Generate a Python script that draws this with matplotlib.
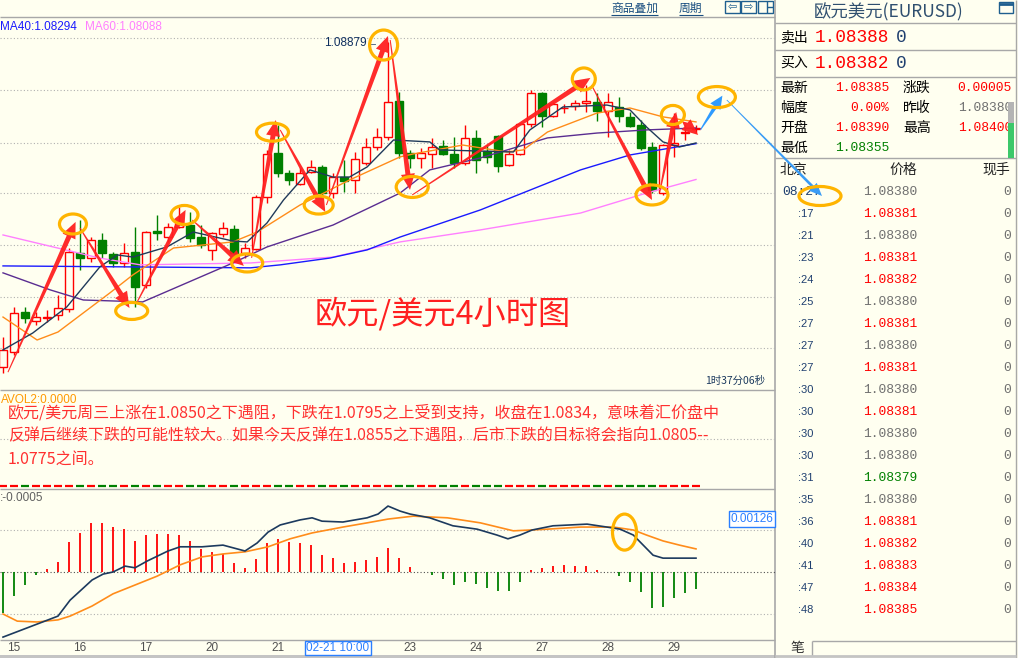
import matplotlib
matplotlib.use("Agg")
import matplotlib.pyplot as plt
from matplotlib.patches import Rectangle, Ellipse, Polygon
from matplotlib.transforms import blended_transform_factory
import numpy as np

# ---------------------------------------------------------------- data
opens = [1.07010, 1.07096, 1.07326, 1.07274, 1.07292, 1.07309, 1.07343, 1.07665, 1.07636, 1.07740,
         1.07660, 1.07608, 1.07671, 1.07481, 1.07792, 1.07757, 1.07815, 1.07826, 1.07757, 1.07683,
         1.07775, 1.07803, 1.07665, 1.07688, 1.07987, 1.08240, 1.08125, 1.08062, 1.08131, 1.08160,
         1.08010, 1.08102, 1.08085, 1.08183, 1.08275, 1.08333, 1.08539, 1.08240, 1.08212, 1.08235,
         1.08281, 1.08235, 1.08183, 1.08327, 1.08252, 1.08338, 1.08171, 1.08235, 1.08407, 1.08585,
         1.08453, 1.08499, 1.08511, 1.08528, 1.08534, 1.08482, 1.08505, 1.08448, 1.08401, 1.08275,
         1.08010, 1.08286, 1.08356, 1.08380]
highs = [1.07182, 1.07355, 1.07355, 1.07326, 1.07338, 1.07424, 1.07694, 1.07855, 1.07757, 1.07780,
         1.07671, 1.07723, 1.07815, 1.07792, 1.07884, 1.07838, 1.07930, 1.07901, 1.07826, 1.07786,
         1.07844, 1.07826, 1.07723, 1.07999, 1.08258, 1.08401, 1.08143, 1.08154, 1.08200, 1.08171,
         1.08125, 1.08200, 1.08246, 1.08327, 1.08384, 1.08879, 1.08591, 1.08258, 1.08269, 1.08327,
         1.08315, 1.08333, 1.08401, 1.08373, 1.08286, 1.08345, 1.08258, 1.08413, 1.08603, 1.08591,
         1.08534, 1.08522, 1.08545, 1.08631, 1.08585, 1.08585, 1.08562, 1.08476, 1.08430, 1.08304,
         1.08292, 1.08471, 1.08401, 1.08400]
lows = [1.06975, 1.07079, 1.07263, 1.07252, 1.07269, 1.07281, 1.07326, 1.07568, 1.07613, 1.07636,
        1.07585, 1.07585, 1.07355, 1.07464, 1.07740, 1.07729, 1.07809, 1.07729, 1.07694, 1.07625,
        1.07757, 1.07660, 1.07636, 1.07683, 1.07953, 1.08102, 1.08056, 1.08056, 1.08125, 1.07999,
        1.07982, 1.08016, 1.08010, 1.08171, 1.08258, 1.08315, 1.08212, 1.08154, 1.08154, 1.08154,
        1.08229, 1.08154, 1.08171, 1.08125, 1.08183, 1.08131, 1.08166, 1.08229, 1.08390, 1.08390,
        1.08448, 1.08471, 1.08488, 1.08476, 1.08425, 1.08333, 1.08419, 1.08390, 1.08258, 1.08010,
        1.07999, 1.08218, 1.08315, 1.08355]
closes = [1.07107, 1.07320, 1.07292, 1.07298, 1.07298, 1.07349, 1.07671, 1.07636, 1.07740, 1.07665,
          1.07608, 1.07665, 1.07470, 1.07786, 1.07780, 1.07815, 1.07838, 1.07751, 1.07711, 1.07780,
          1.07809, 1.07665, 1.07694, 1.07987, 1.08234, 1.08125, 1.08085, 1.08125, 1.08160, 1.08010,
          1.08102, 1.08079, 1.08206, 1.08275, 1.08333, 1.08534, 1.08240, 1.08212, 1.08240, 1.08275,
          1.08235, 1.08183, 1.08327, 1.08200, 1.08218, 1.08166, 1.08235, 1.08407, 1.08585, 1.08453,
          1.08522, 1.08500, 1.08528, 1.08539, 1.08482, 1.08534, 1.08453, 1.08396, 1.08269, 1.08028,
          1.08286, 1.08298, 1.08361, 1.08385]
volume = [0, 0, 0, 0, 0, 0, 0, 0, 0, 0, 0, 0, 0, 0, 0, 0, 0, 0, 0, 0, 0, 0, 0, 0, 0, 0, 0, 0, 0, 0, 0, 0,
          0, 0, 0, 0, 0, 0, 0, 0, 0, 0, 0, 0, 0, 0, 0, 0, 0, 0, 0, 0, 0, 0, 0, 0, 0, 0, 0, 0, 0, 0, 0, 0]

# moving averages (candle index, value)
ma5_x = [0, 2.7, 5.8, 8.8, 10.4, 11.8, 14.9, 17.3, 20.9, 22.2, 24.0, 25.5, 27.9, 30.0, 31.5, 33.1, 35.5,
         38.8, 39.7, 46.4, 47.9, 50.9, 54.9, 57.0, 58.5, 60.0, 61.5, 63.0]
ma5_v = [1.07108, 1.07205, 1.07355, 1.07585, 1.07654, 1.07642, 1.07700, 1.07786, 1.07734, 1.07729,
         1.07838, 1.07970, 1.08143, 1.08102, 1.08102, 1.08160, 1.08315, 1.08304, 1.08258, 1.08246,
         1.08373, 1.08505, 1.08516, 1.08488, 1.08390, 1.08304, 1.08275, 1.08298]
ma10_x = [0, 3.1, 5.0, 9.7, 11.8, 15.5, 20.9, 23.1, 27.0, 31.5, 36.1, 37.3, 41.8, 45.8, 47.3, 49.5,
          54.0, 57.0, 60.0, 63.0]
ma10_v = [1.07297, 1.07165, 1.07211, 1.07435, 1.07539, 1.07694, 1.07729, 1.07786, 1.07941, 1.08085,
          1.08218, 1.08235, 1.08286, 1.08246, 1.08258, 1.08361, 1.08470, 1.08499, 1.08448, 1.08419]
ma20_x = [0, 4.3, 7.3, 12.7, 20.9, 24.0, 30.0, 36.1, 38.8, 43.4, 49.5, 54.0, 58.5, 63.0]
ma20_v = [1.07551, 1.07453, 1.07395, 1.07384, 1.07608, 1.07700, 1.07826, 1.08010, 1.08143, 1.08212,
          1.08327, 1.08355, 1.08373, 1.08384]
ma40_x = [0, 22.5, 25.2, 29.7, 33.1, 36.1, 43.4, 52.5, 57.0, 63.0]
ma40_v = [1.07591, 1.07580, 1.07597, 1.07636, 1.07683, 1.07757, 1.07913, 1.08143, 1.08229, 1.08294]
ma60_x = [0, 8.8, 12.5, 22.5, 30.0, 36.1, 43.4, 52.5, 58.5, 63.0]
ma60_v = [1.07769, 1.07636, 1.07597, 1.07608, 1.07642, 1.07729, 1.07798, 1.07895, 1.08010, 1.08088]

# MACD
macd_hist = [-0.00098, -0.00057, -0.00031, -0.00007, 0.00007, 0.00024, 0.00071, 0.00093, 0.00117, 0.00117,
             0.00107, 0.00102, 0.00074, 0.00088, 0.00090, 0.00090, 0.00088, 0.00074, 0.00055, 0.00048,
             0.00043, 0.00021, 0.00010, 0.00031, 0.00069, 0.00079, 0.00071, 0.00069, 0.00064, 0.00040,
             0.00033, 0.00021, 0.00024, 0.00029, 0.00036, 0.00057, 0.00033, 0.00012, 0.00000, -0.00007,
             -0.00017, -0.00031, -0.00024, -0.00029, -0.00038, -0.00045, -0.00045, -0.00024, 0.00005, 0.00010,
             0.00014, 0.00017, 0.00014, 0.00014, 0.00005, -0.00001, -0.00010, -0.00024, -0.00048, -0.00086,
             -0.00083, -0.00062, -0.00050, -0.00040]
dif_x = [0, 5, 6.1, 8.1, 9.1, 10, 11.1, 12, 13.1, 15, 16.1, 18.1, 20, 22, 23.1, 24.1, 25.2, 27, 28.1, 29,
         30.9, 33.1, 34.1, 35, 36.1, 37, 38.8, 40.9, 43.1, 44.9, 45.9, 47, 48.1, 50, 53.1, 54.9, 56.1, 57.3,
         58.2, 59.1, 60, 63]
dif_v = [-0.00155, -0.00105, -0.00067, -0.00019, -0.00005, 0.0, 0.00014, 0.00010, 0.00026, 0.00050,
         0.00060, 0.00060, 0.00064, 0.00050, 0.00069, 0.00095, 0.00112, 0.00124, 0.00129, 0.00121,
         0.00119, 0.00129, 0.00138, 0.00157, 0.00145, 0.00138, 0.00129, 0.00110, 0.00102, 0.00088,
         0.00079, 0.00088, 0.00100, 0.00110, 0.00114, 0.00107, 0.00102, 0.00088, 0.00064, 0.00040,
         0.00033, 0.00033]
dea_x = [0, 1.3, 3.1, 5, 6.1, 8.1, 10, 12, 14, 16.1, 18.1, 20, 22, 24.1, 26.1, 28.1, 30.9, 33.1, 35, 37.3,
         40.4, 43.4, 46.4, 49.5, 52.5, 55.5, 57.3, 58.5, 60, 61.5, 63]
dea_v = [-0.00100, -0.00117, -0.00119, -0.00114, -0.00105, -0.00081, -0.00052, -0.00031, -0.00010, 0.00017,
         0.00036, 0.00043, 0.00048, 0.00060, 0.00079, 0.00093, 0.00107, 0.00117, 0.00126, 0.00133,
         0.00129, 0.00117, 0.00098, 0.00102, 0.00107, 0.00107, 0.00100, 0.00088, 0.00074, 0.00064, 0.00055]
macd_marker = 0.00126
macd_top_label = ":-0.0005"

# x axis labels
day_labels = ["15", "16", "17", "20", "21", "23", "24", "27", "28", "29"]
day_label_idx = [1, 7, 13, 19, 25, 37, 43, 49, 55, 61]
cursor_label = "02-21 10:00"
price_grid = [1.0712, 1.0741, 1.0771, 1.0801, 1.0830, 1.0860, 1.0890]

# quote panel
symbol_title = "欧元美元(EURUSD)"
ask_price, bid_price = 1.08388, 1.08382
last_price, prev_close = 1.08385, 1.08380
day_open, day_high, day_low = 1.08390, 1.08400, 1.08355
tick_times = ["08:27", ":17", ":21", ":23", ":24", ":25", ":27", ":27", ":27", ":30",
              ":30", ":30", ":30", ":31", ":35", ":36", ":40", ":41", ":47", ":48"]
tick_prices = [1.08380, 1.08381, 1.08380, 1.08381, 1.08382, 1.08380, 1.08381, 1.08380, 1.08381, 1.08380,
               1.08381, 1.08380, 1.08380, 1.08379, 1.08380, 1.08381, 1.08382, 1.08383, 1.08384, 1.08385]
tick_vols = [0, 0, 0, 0, 0, 0, 0, 0, 0, 0, 0, 0, 0, 0, 0, 0, 0, 0, 0, 0]

chart_title = "欧元/美元4小时图"
comment_lines = ["欧元/美元周三上涨在1.0850之下遇阻，下跌在1.0795之上受到支持，收盘在1.0834，意味着汇价盘中",
                 "反弹后继续下跌的可能性较大。如果今天反弹在1.0855之下遇阻，后市下跌的目标将会指向1.0805--",
                 "1.0775之间。"]

# annotation anchors (candle index, price)
circles = [(6.36, 1.07832, 27, 20), (11.7, 1.07332, 32, 17), (16.5, 1.07884, 27, 19),
           (22.2, 1.07608, 31, 18), (24.5, 1.08360, 32, 18), (28.7, 1.07941, 29, 18),
           (34.6, 1.08861, 28, 30), (37.2, 1.08045, 32, 21), (52.8, 1.08666, 23, 22),
           (59.0, 1.07999, 32, 20), (60.9, 1.08459, 23, 19), (64.9, 1.08562, 37, 21)]
red_arrows = [((0.45, 1.06980), (6.6, 1.07844)), ((7.0, 1.07809), (11.5, 1.07349)),
              ((12.1, 1.07372), (16.6, 1.07913)), ((17.2, 1.07855), (21.9, 1.07591)),
              ((22.6, 1.07637), (24.8, 1.08430)), ((25.2, 1.08373), (29.3, 1.07901)),
              ((29.4, 1.07941), (35.0, 1.08913)), ((35.2, 1.08890), (37.0, 1.08028)),
              ((37.2, 1.07999), (53.4, 1.08672)), ((53.5, 1.08631), (59.0, 1.07970)),
              ((59.7, 1.08016), (61.2, 1.08476)), ((61.8, 1.08419), (63.2, 1.08344))]
blue_arrow = ((63.4, 1.08373), (65.4, 1.08570))
blue_line_start = (65.8, 1.08545)

# ---------------------------------------------------------------- style
W, H = 1018, 658
BG = "#FFFFF0"
RED = "#FF0000"
GREEN = "#008000"
GRAY = "#707070"
NAVY = "#1C3A5E"
LINE = "#A8A8A8"
CJK = ["Noto Sans CJK SC", "DejaVu Sans"]
SANS = ["Liberation Sans", "DejaVu Sans"]
MONO = ["Liberation Mono", "DejaVu Sans Mono"]
plt.rcParams["font.family"] = CJK

fig = plt.figure(figsize=(W / 100, H / 100), dpi=100, facecolor=BG)

bg = fig.add_axes([0, 0, 1, 1], zorder=0)
bg.set_xlim(0, W)
bg.set_ylim(H, 0)
bg.axis("off")

CW = 775  # chart width in px
XMIN = -3 / 11
XMAX = XMIN + CW / 11


def panel(top, bottom, ylim, z=2):
    a = fig.add_axes([0, (H - bottom) / H, CW / W, (bottom - top) / H], zorder=z)
    a.set_xlim(XMIN, XMAX)
    a.set_ylim(*ylim)
    a.axis("off")
    return a


ax_p = panel(17, 390, (1.068775, 1.0902225))
ax_v = panel(390, 489, (-3, 96))
ax_m = panel(489, 640, (-(640 - 572) / 42000, (572 - 489) / 42000))

ov = fig.add_axes([0, 0, 1, 1], zorder=10)
ov.set_xlim(0, W)
ov.set_ylim(H, 0)
ov.axis("off")


def to_px(ax, x, y):
    d = ax.transData.transform((x, y))
    return ov.transData.inverted().transform(d)


# ---------------------------------------------------------------- chrome lines
def hl(y, x0, x1, c=LINE, lw=1.0):
    bg.plot([x0, x1], [y, y], color=c, lw=lw, solid_capstyle="butt")


def vl(x, y0, y1, c=LINE, lw=1.0):
    bg.plot([x, x], [y0, y1], color=c, lw=lw, solid_capstyle="butt")


hl(17, 0, 775)
hl(390, 0, 775)
hl(489, 0, 775)
hl(640, 0, 775)
bg.add_patch(Rectangle((0, 655), 775, 3, facecolor="#C4C4C4", edgecolor="none"))
vl(775.5, 0, 658, lw=1.2)
vl(1016, 0, 658)
for y in (23, 50, 77, 158):
    hl(y, 775, 1016)

# header buttons
bg.text(611, 8, "商品叠加", fontsize=8.5, color="#1B4F80", va="center", ha="left", family=CJK)
hl(14.5, 611, 658, c="#1B4F80", lw=0.8)
bg.text(679, 8, "周期", fontsize=8.5, color="#1B4F80", va="center", ha="left", family=CJK)
hl(14.5, 679, 703, c="#1B4F80", lw=0.8)
for x0, sym in ((725, "⇦"), (741, "⇨"), (758, "")):
    bg.add_patch(Rectangle((x0, 1), 15, 11.5, facecolor="none", edgecolor="#1F5F8F", lw=1))
    if sym:
        bg.text(x0 + 7.5, 6.8, sym, fontsize=8, color="#1F5F8F", ha="center", va="center",
                family=["DejaVu Sans"])
vl(767, 1, 12.5, c="#1F5F8F")
hl(6.5, 767, 773, c="#1F5F8F")

# ---------------------------------------------------------------- price panel
for g in price_grid:
    ax_p.axhline(g, color="#B0B0B0", lw=0.8, ls=(0, (1, 2)), zorder=1)

n = len(opens)
o = np.array(opens)
h = np.array(highs)
l = np.array(lows)
c = np.array(closes)
ix = np.arange(n)
up = c >= o
cols = np.where(up, RED, GREEN)
ax_p.vlines(ix, l, h, colors=cols, lw=1.0, zorder=3)
bw = 0.7
for i in range(n):
    bot = min(o[i], c[i])
    ht = max(abs(c[i] - o[i]), 1e-7)
    if up[i]:
        ax_p.add_patch(Rectangle((i - bw / 2, bot), bw, ht, facecolor=BG, edgecolor=RED, lw=1.0, zorder=4))
    else:
        ax_p.add_patch(Rectangle((i - bw / 2, bot), bw, ht, facecolor=GREEN, edgecolor=GREEN, lw=1.0, zorder=4))

ax_p.plot(ma60_x, ma60_v, color="#FF80FF", lw=1.0, zorder=5)
ax_p.plot(ma40_x, ma40_v, color="#1A1AFF", lw=1.0, zorder=5)
ax_p.plot(ma20_x, ma20_v, color="#5A2D91", lw=1.0, zorder=5)
ax_p.plot(ma10_x, ma10_v, color="#FF8C1A", lw=1.0, zorder=5)
ax_p.plot(ma5_x, ma5_v, color="#203A5A", lw=1.0, zorder=5)

bg.text(0, 27, f"MA40:{ma40_v[-1]:.5f}", fontsize=8.5, color="#1A1AFF", va="center", ha="left", family=SANS)
bg.text(85, 27, f"MA60:{ma60_v[-1]:.5f}", fontsize=8.5, color="#FF80FF", va="center", ha="left", family=SANS)

# high label
hi_i = int(np.argmax(h))
hx, hy = to_px(ax_p, hi_i, h[hi_i])
ov.text(hx - 10, hy + 1, f"{h[hi_i]:.5f}←", fontsize=8.5, color="#0F2F5F", ha="right", va="center",
        family=SANS, zorder=5)

ov.text(765, 381, "1时37分06秒", fontsize=7.5, color=NAVY, ha="right", va="center", family=CJK)

# ---------------------------------------------------------------- volume panel
ax_v.axhline(47, color="#B0B0B0", lw=0.8, ls=(0, (1, 2)), zorder=1)
ax_v.hlines(volume, ix - 0.38, ix + 0.38, colors=cols, lw=1.6, zorder=3)
bg.text(1, 400, "AVOL2:0.0000", fontsize=8.5, color="#FF9900", va="center", ha="left", family=SANS)
for k, line in enumerate(comment_lines):
    ov.text(8, 413 + 23 * k, line, fontsize=11.5, color="#FF3030", va="center", ha="left", family=CJK)

# ---------------------------------------------------------------- MACD panel
for g in (0.001, -0.001):
    ax_m.axhline(g, color="#B0B0B0", lw=0.8, ls=(0, (1, 2)), zorder=1)
ax_m.axhline(0, color="#505050", lw=0.8, ls=(0, (1, 2)), zorder=1)
hist = np.array(macd_hist)
ax_m.vlines(ix, 0, hist, colors=np.where(hist >= 0, RED, GREEN), lw=1.3, zorder=3)
ax_m.plot(dea_x, dea_v, color="#FF8C1A", lw=1.2, zorder=4)
ax_m.plot(dif_x, dif_v, color="#1C3A5E", lw=1.2, zorder=4)
bg.text(0, 498, macd_top_label, fontsize=8.5, color="#606060", va="center", ha="left", family=SANS)
ax_m.text(XMAX - 0.15, macd_marker, f"{macd_marker:.5f}", fontsize=8.5, color="#2A7FFF", ha="right",
          va="center", family=SANS, zorder=6,
          bbox=dict(boxstyle="square,pad=0.15", facecolor="white", edgecolor="#2A7FFF", lw=1))

tr = blended_transform_factory(ax_m.transData, ax_m.transAxes)
for lab, i in zip(day_labels, day_label_idx):
    ax_m.text(i, -8 / 151, lab, transform=tr, fontsize=8.5, color="#505050", ha="center", va="center",
              family=SANS, clip_on=False)
bg.text(338, 648, cursor_label, fontsize=8.5, color="#2A7FFF", ha="center", va="center", family=SANS,
        bbox=dict(boxstyle="square,pad=0.12", facecolor="white", edgecolor="#2A7FFF", lw=1))

# ---------------------------------------------------------------- annotations
def taper(p0, p1, color, w0=1.0, w1=5.0, hw=14.0, hlen=16.0, alpha=1.0, z=7):
    p0 = np.asarray(p0, float)
    p1 = np.asarray(p1, float)
    d = p1 - p0
    L = np.hypot(*d)
    d = d / L
    nr = np.array([-d[1], d[0]])
    b = p1 - d * hlen
    pts = [p0 + nr * w0 / 2, b + nr * w1 / 2, b + nr * hw / 2, p1, b - nr * hw / 2, b - nr * w1 / 2,
           p0 - nr * w0 / 2]
    ov.add_patch(Polygon(pts, closed=True, facecolor=color, edgecolor="none", alpha=alpha, zorder=z))


for (a0, a1) in red_arrows:
    taper(to_px(ax_p, *a0), to_px(ax_p, *a1), "#FF2020", alpha=0.95)

taper(to_px(ax_p, *blue_arrow[0]), to_px(ax_p, *blue_arrow[1]), "#2F9BFF", w0=1, w1=4, hw=12, hlen=13)
taper(to_px(ax_p, *blue_line_start), (822, 196), "#3A9CF5", w0=0.8, w1=2.8, hw=11, hlen=13)

for (ci, cp, w, hh) in circles:
    cx, cy = to_px(ax_p, ci, cp)
    ov.add_patch(Ellipse((cx, cy), w, hh, facecolor="none", edgecolor="#FFB400", lw=2.3, zorder=8))
mx, my = to_px(ax_m, 56.5, 0.00095)
ov.add_patch(Ellipse((mx, my), 24, 36, facecolor="none", edgecolor="#FFB400", lw=2.3, zorder=8))
ov.add_patch(Ellipse((820, 196), 42, 19, facecolor="none", edgecolor="#FFB400", lw=2.3, zorder=8))

ov.text(443, 314, chart_title, fontsize=23.2, color="#FF2020", ha="center", va="center", family=CJK)

# ---------------------------------------------------------------- quote panel
def pcol(v):
    if v > prev_close + 1e-9:
        return RED
    if v < prev_close - 1e-9:
        return GREEN
    return GRAY


bg.text(889, 12, symbol_title, fontsize=12.5, color="#2F4F6F", ha="center", va="center", family=CJK)
bg.add_patch(Rectangle((999, 2), 14, 11, facecolor="none", edgecolor="#1F5F8F", lw=1))
hl(3.5, 999, 1013, c="#1F5F8F", lw=2)

for y, lab, val in ((37, "卖出", ask_price), (63, "买入", bid_price)):
    bg.text(780, y, lab, fontsize=10, color="black", ha="left", va="center", family=CJK)
    bg.text(815, y, f"{val:.5f}", fontsize=12.8, color=pcol(val), ha="left", va="center", family=MONO)
    bg.text(896, y, "0", fontsize=12.8, color="#1F3F6F", ha="left", va="center", family=MONO)

chg = last_price - prev_close
left_rows = [("最新", f"{last_price:.5f}", pcol(last_price)),
             ("幅度", f"{chg / prev_close * 100:.2f}%", pcol(last_price)),
             ("开盘", f"{day_open:.5f}", pcol(day_open)),
             ("最低", f"{day_low:.5f}", pcol(day_low))]
right_rows = [("涨跌", f"{chg:.5f}", pcol(last_price)),
              ("昨收", f"{prev_close:.5f}", GRAY),
              ("最高", f"{day_high:.5f}", pcol(day_high))]
for k, (lab, txt, col) in enumerate(left_rows):
    y = 88 + 20 * k
    bg.text(780, y, lab, fontsize=10, color="black", ha="left", va="center", family=CJK)
    bg.text(889, y, txt, fontsize=9.4, color=col, ha="right", va="center", family=MONO)
for k, (lab, txt, col) in enumerate(right_rows):
    y = 88 + 20 * k
    bg.text(903, y, lab, fontsize=10, color="black", ha="left", va="center", family=CJK)
    bg.text(1012, y, txt, fontsize=9.4, color=col, ha="right", va="center", family=MONO)

ov.add_patch(Rectangle((1008, 102), 6, 21, facecolor="#B4B4B4", edgecolor="none", zorder=3))
ov.add_patch(Rectangle((1008, 123), 6, 35, facecolor="#3CC86A", edgecolor="none", zorder=3))

bg.text(780, 170, "北京", fontsize=10, color="#222222", ha="left", va="center", family=CJK)
bg.text(917, 170, "价格", fontsize=10, color="#222222", ha="right", va="center", family=CJK)
bg.text(1010, 170, "现手", fontsize=10, color="#222222", ha="right", va="center", family=CJK)

for k, (t, p, v) in enumerate(zip(tick_times, tick_prices, tick_vols)):
    y = 192 + 22 * k
    if k == 0:
        bg.text(782, y, t, fontsize=9.4, color="#1F3F6F", ha="left", va="center", family=MONO)
    else:
        bg.text(798, y, t, fontsize=8, color="#1F3F6F", ha="left", va="center", family=SANS)
    bg.text(917, y, f"{p:.5f}", fontsize=9.4, color=pcol(p), ha="right", va="center", family=MONO)
    bg.text(1011, y, str(v), fontsize=9.4, color=GRAY, ha="right", va="center", family=MONO)

# bottom tab
hl(641, 812, 1016)
vl(812, 641, 656)
bg.text(797, 648, "笔", fontsize=10, color="#333333", ha="center", va="center", family=CJK)
hl(656, 775, 1016, c="#C4C4C4", lw=2)

fig.savefig("out.png", dpi=100, facecolor=BG)
